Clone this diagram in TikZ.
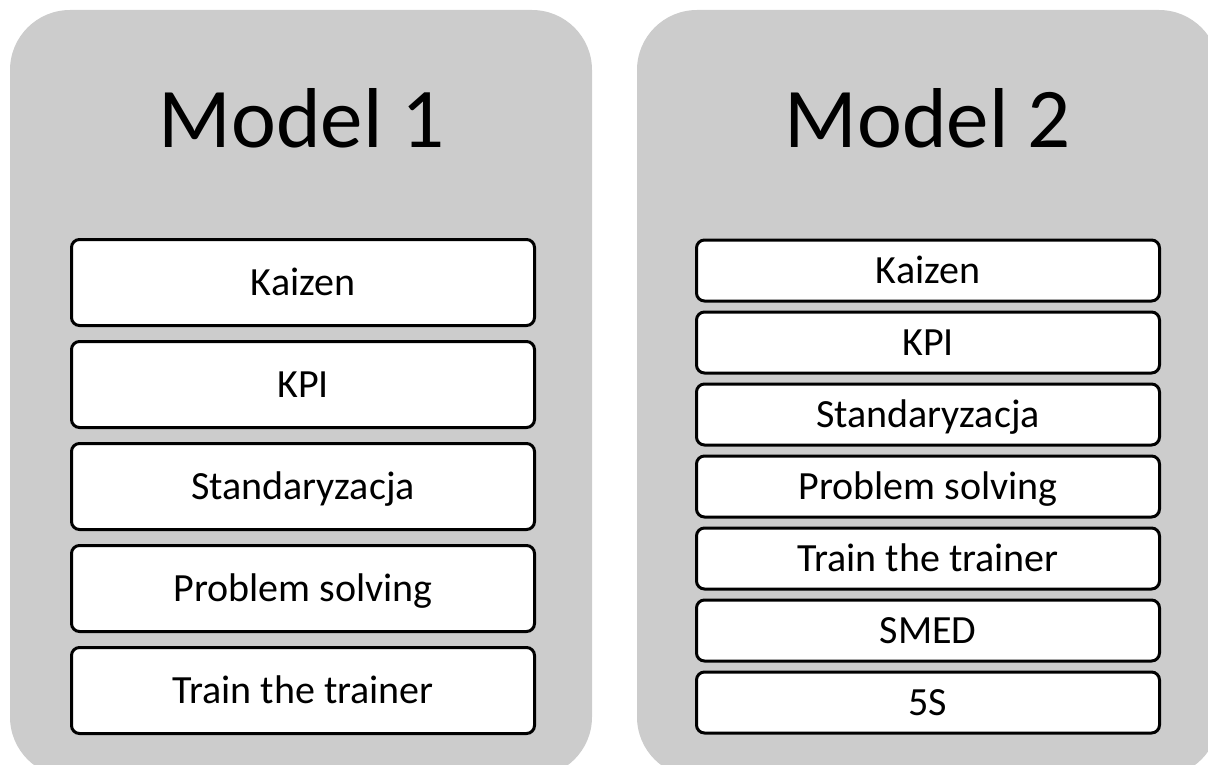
\documentclass[tikz,border=0pt]{standalone}
\usepackage{fontspec}
\setmainfont{Carlito}
\definecolor{panelgray}{HTML}{CCCCCC}
\tikzset{
  panel/.style={fill=panelgray, rounded corners=60pt},
  title/.style={font=\fontsize{85}{100}\selectfont, text height=54.7pt, text depth=0pt, inner sep=0pt},
  itembox/.style={draw=black, line width=3pt, fill=white, rounded corners=8pt,
    minimum width=463pt, inner sep=0pt,
    font=\fontsize{40}{48}\selectfont, text height=25.8pt, text depth=0pt},
  bigitem/.style={itembox, minimum height=86pt},
  smallitem/.style={itembox, minimum height=61pt}
}
\begin{document}
\begin{tikzpicture}[x=1pt, y=-1pt]
\useasboundingbox (0,0) rectangle (1208,765);
\clip (0,0) rectangle (1208,765);
% two grey panels, running past the lower edge
\fill[panel] (10,10) rectangle (592,777);
\fill[panel] (637,10) rectangle (1219,777);
% panel headings
\node[title] (t1) at (302,120) {Model 1};
\node[title] (t2) at (928,120) {Model 2};
% first model: five topics
\node[bigitem] (a1) at (303,282.5) {Kaizen};
\node[bigitem] (a2) at (303,384.5) {KPI};
\node[bigitem] (a3) at (303,486.5) {Standaryzacja};
\node[bigitem] (a4) at (303,588.5) {Problem solving};
\node[bigitem] (a5) at (303,690.5) {Train the trainer};
% second model: seven topics
\node[smallitem] (b1) at (928,270.5) {Kaizen};
\node[smallitem] (b2) at (928,342.5) {KPI};
\node[smallitem] (b3) at (928,414.5) {Standaryzacja};
\node[smallitem] (b4) at (928,486.5) {Problem solving};
\node[smallitem] (b5) at (928,558.5) {Train the trainer};
\node[smallitem] (b6) at (928,630.5) {SMED};
\node[smallitem] (b7) at (928,702.5) {5S};
\end{tikzpicture}
\end{document}
